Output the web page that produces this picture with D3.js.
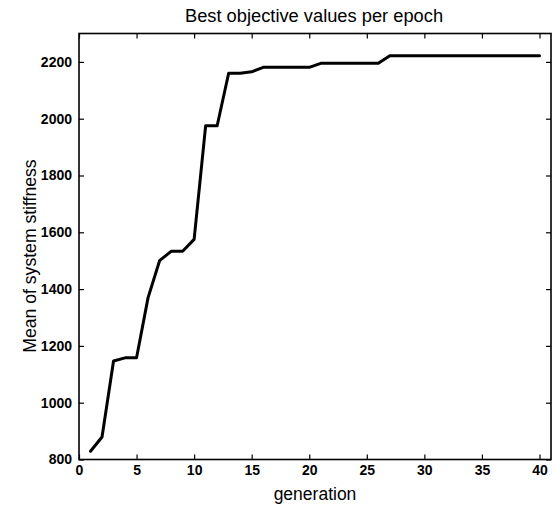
<!DOCTYPE html>
<html><head><meta charset="utf-8">
<script src="https://cdn.jsdelivr.net/npm/d3@7"></script>
<style>body{margin:0;background:#fff;} svg{display:block;}</style>
</head><body>
<script>
const generations = d3.range(1, 41);
const bestValues = [829, 879, 1147, 1158, 1158, 1370, 1500, 1533, 1533, 1575,
  1975, 1975, 2160, 2160, 2165, 2181, 2181, 2181, 2181, 2181,
  2195, 2195, 2195, 2195, 2195, 2195, 2222, 2222, 2222, 2222,
  2222, 2222, 2222, 2222, 2222, 2222, 2222, 2222, 2222, 2222];
const xTicks = [0, 5, 10, 15, 20, 25, 30, 35, 40];
const yTicks = [800, 1000, 1200, 1400, 1600, 1800, 2000, 2200];
const titleText = "Best objective values per epoch";
const xLabel = "generation";
const yLabel = "Mean of system stiffness";

const W = 555, H = 507;
const m = {left: 79, right: 4, top: 33.5, bottom: 47.5};
const svg = d3.select("body").append("svg").attr("width", W).attr("height", H);
const x = d3.scaleLinear().domain([0, 41]).range([m.left, W - m.right]);
const y = d3.scaleLinear().domain([800, 2300]).range([H - m.bottom, m.top]);
const font = "Arial, 'Liberation Sans', sans-serif";

function styleAxis(g, showLabels) {
  g.select(".domain").remove();
  g.selectAll(".tick line").attr("stroke", "#000").attr("stroke-width", 1.2);
  g.selectAll(".tick text").attr("font-family", font).attr("font-size", 14)
    .attr("font-weight", "bold").attr("fill", "#000");
  if (!showLabels) g.selectAll(".tick text").remove();
}
const tl = 5;
const fmt = d3.format("d");
svg.append("g").attr("transform", `translate(0,${H - m.bottom})`)
  .call(d3.axisBottom(x).tickValues(xTicks).tickFormat(fmt).tickSize(-tl).tickPadding(6))
  .call(g => styleAxis(g, true));
svg.append("g").attr("transform", `translate(0,${m.top})`)
  .call(d3.axisTop(x).tickValues(xTicks).tickSize(-tl))
  .call(g => styleAxis(g, false));
svg.append("g").attr("transform", `translate(${m.left},0)`)
  .call(d3.axisLeft(y).tickValues(yTicks).tickFormat(fmt).tickSize(-tl).tickPadding(7))
  .call(g => styleAxis(g, true));
svg.append("g").attr("transform", `translate(${W - m.right},0)`)
  .call(d3.axisRight(y).tickValues(yTicks).tickSize(-tl))
  .call(g => styleAxis(g, false));

svg.append("rect").attr("x", x(0)).attr("y", y(2300))
  .attr("width", x(41) - x(0)).attr("height", y(800) - y(2300))
  .attr("fill", "none").attr("stroke", "#000").attr("stroke-width", 1.6);

svg.append("path").datum(generations.map((g, i) => [g, bestValues[i]]))
  .attr("fill", "none").attr("stroke", "#000").attr("stroke-width", 3)
  .attr("stroke-linejoin", "round").attr("stroke-linecap", "round")
  .attr("d", d3.line().x(d => x(d[0])).y(d => y(d[1])));

svg.append("text").attr("x", 314).attr("y", 22)
  .attr("text-anchor", "middle").attr("font-family", font).attr("font-size", 18.3)
  .attr("fill", "#000").text(titleText);
svg.append("text").attr("x", 315).attr("y", 500)
  .attr("text-anchor", "middle").attr("font-family", font).attr("font-size", 17.5)
  .attr("fill", "#000").text(xLabel);
svg.append("text").attr("transform", `translate(36,256) rotate(-90)`)
  .attr("text-anchor", "middle").attr("font-family", font).attr("font-size", 17.6)
  .attr("fill", "#000").text(yLabel);
</script>
</body></html>
